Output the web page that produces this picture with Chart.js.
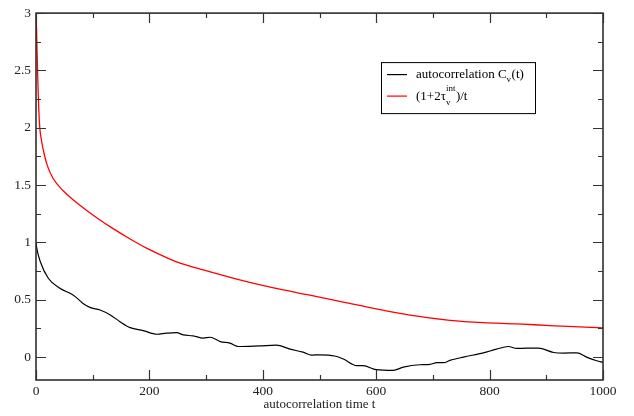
<!DOCTYPE html>
<html>
<head>
<meta charset="utf-8">
<script src="https://cdn.jsdelivr.net/npm/chart.js@4"></script>
<style>
  body { margin: 0; background: #fff; }
  canvas { display: block; }
</style>
</head>
<body>
<canvas id="acf" width="634" height="416"></canvas>
<script>
'use strict';

// (1+2 tau_int)/t
var tRed = [0, 1, 3, 6, 10, 15, 20, 30, 48, 66, 89, 107, 136, 166, 195, 236, 254, 295, 354, 413, 483, 542, 600, 660, 730, 789, 848, 906, 1000];
var redVals = [3.02, 2.85, 2.45, 2.05, 1.88, 1.76, 1.67, 1.56, 1.45, 1.37, 1.28, 1.215, 1.12, 1.03, 0.95, 0.855, 0.82, 0.76, 0.68, 0.61, 0.54, 0.48, 0.42, 0.365, 0.32, 0.30, 0.29, 0.275, 0.255];

// autocorrelation C_v(t)
var tBlack = [0, 1, 7, 22, 42, 66, 83, 95, 113, 131, 148, 166, 189, 213, 230, 248, 260, 277, 295, 307, 325, 342, 357, 395, 424, 448, 471, 486, 501, 527, 542, 566, 577, 600, 630, 648, 677, 695, 707, 719, 730, 754, 789, 812, 833, 848, 866, 886, 913, 931, 954, 971, 989, 1000];
var blackVals = [1.0, 0.96, 0.84, 0.685, 0.60, 0.54, 0.468, 0.433, 0.41, 0.367, 0.309, 0.257, 0.231, 0.199, 0.208, 0.213, 0.193, 0.185, 0.165, 0.173, 0.135, 0.121, 0.092, 0.098, 0.104, 0.069, 0.043, 0.017, 0.02, 0.009, -0.017, -0.075, -0.075, -0.11, -0.116, -0.087, -0.067, -0.064, -0.049, -0.049, -0.029, 0.0, 0.037, 0.069, 0.092, 0.075, 0.078, 0.078, 0.04, 0.035, 0.037, 0.0, -0.032, -0.047];

var xMajor = [0, 200, 400, 600, 800, 1000];
var xMinor = [100, 300, 500, 700, 900];
var yMajor = [0, 0.5, 1, 1.5, 2, 2.5, 3];
var yMinor = [-0.25, 0.25, 0.75, 1.25, 1.75, 2.25, 2.75];

var FONT = '"Liberation Serif", "DejaVu Serif", serif';

function toPoints(xs, ys) {
  return xs.map(function (x, i) { return { x: x, y: ys[i] }; });
}

// frame with inward ticks on all four sides, plus the legend box
var framePlugin = {
  id: 'frame',
  afterDraw: function (chart) {
    var ctx = chart.ctx;
    var a = chart.chartArea;
    var xs = chart.scales.x, ys = chart.scales.y;
    ctx.save();
    ctx.strokeStyle = '#222';
    ctx.lineWidth = 1.5;
    ctx.strokeRect(a.left, a.top, a.right - a.left, a.bottom - a.top);

    ctx.lineWidth = 1.2;
    ctx.strokeStyle = '#333';
    function xt(v, len) {
      var p = Math.round(xs.getPixelForValue(v)) + 0.5;
      ctx.beginPath();
      ctx.moveTo(p, a.bottom); ctx.lineTo(p, a.bottom - len);
      ctx.moveTo(p, a.top); ctx.lineTo(p, a.top + len);
      ctx.stroke();
    }
    function yt(v, len) {
      if (v < ys.min || v > ys.max) return;
      var p = Math.round(ys.getPixelForValue(v)) + 0.5;
      ctx.beginPath();
      ctx.moveTo(a.left, p); ctx.lineTo(a.left + len, p);
      ctx.moveTo(a.right, p); ctx.lineTo(a.right - len, p);
      ctx.stroke();
    }
    xMajor.forEach(function (v) { xt(v, 10); });
    xMinor.forEach(function (v) { xt(v, 5); });
    yMajor.forEach(function (v) { yt(v, 10); });
    yMinor.forEach(function (v) { yt(v, 5); });

    // legend
    var lx = a.left + 345, ly = a.top + 49;
    ctx.lineWidth = 1;
    ctx.strokeStyle = '#000';
    ctx.strokeRect(lx + 0.5, ly + 0.5, 154, 51);
    ctx.lineWidth = 1.2;
    ctx.beginPath();
    ctx.moveTo(lx + 6, ly + 12.5); ctx.lineTo(lx + 26, ly + 12.5);
    ctx.stroke();
    ctx.strokeStyle = '#ff0000';
    ctx.beginPath();
    ctx.moveTo(lx + 6, ly + 34); ctx.lineTo(lx + 26, ly + 34);
    ctx.stroke();

    ctx.fillStyle = '#000';
    ctx.textBaseline = 'alphabetic';
    ctx.textAlign = 'left';
    var big = '13px ' + FONT, small = '9px ' + FONT;
    var tx = lx + 35, b1 = ly + 16, b2 = ly + 38;
    ctx.font = big;
    var s = 'autocorrelation C';
    ctx.fillText(s, tx, b1);
    var w = ctx.measureText(s).width;
    ctx.font = small;
    ctx.fillText('v', tx + w, b1 + 4);
    var wv = ctx.measureText('v').width;
    ctx.font = big;
    ctx.fillText('(t)', tx + w + wv + 0.5, b1);

    s = '(1+2\u03c4';
    ctx.fillText(s, tx, b2);
    w = ctx.measureText(s).width;
    ctx.font = small;
    ctx.fillText('int', tx + w, b2 - 9);
    ctx.fillText('v', tx + w, b2 + 5);
    var wi = ctx.measureText('int').width;
    ctx.font = big;
    ctx.fillText(')/t', tx + w + wi + 0.5, b2);
    ctx.restore();
  }
};

var tickFont = { family: FONT, size: 13.5 };
function plainLabel(v) { return String(v); }

new Chart(document.getElementById('acf').getContext('2d'), {
  type: 'line',
  data: {
    datasets: [{
      label: 'autocorrelation C_v(t)',
      data: toPoints(tBlack, blackVals),
      borderColor: '#000',
      borderWidth: 1.2,
      cubicInterpolationMode: 'monotone',
      pointRadius: 0,
      fill: false
    }, {
      label: '(1+2tau_v^int)/t',
      data: toPoints(tRed, redVals),
      borderColor: '#ff0000',
      borderWidth: 1.3,
      cubicInterpolationMode: 'monotone',
      pointRadius: 0,
      fill: false
    }]
  },
  options: {
    responsive: false,
    animation: false,
    devicePixelRatio: 1,
    layout: { padding: { left: 0, top: 11, right: 31, bottom: 0 } },
    plugins: {
      legend: { display: false },
      tooltip: { enabled: false }
    },
    scales: {
      x: {
        type: 'linear',
        min: 0,
        max: 1000,
        grid: { display: false, drawTicks: false },
        border: { display: false },
        afterBuildTicks: function (s) { s.ticks = xMajor.map(function (v) { return { value: v }; }); },
        afterFit: function (s) { s.height = 36; },
        ticks: { font: tickFont, color: '#222', padding: 3, maxRotation: 0, callback: plainLabel },
        title: {
          display: true,
          text: 'autocorrelation time t',
          font: { family: FONT, size: 13 },
          color: '#222',
          padding: { top: 0, bottom: 4 }
        }
      },
      y: {
        min: -0.2,
        max: 3,
        grid: { display: false, drawTicks: false },
        border: { display: false },
        afterBuildTicks: function (s) { s.ticks = yMajor.map(function (v) { return { value: v }; }); },
        afterFit: function (s) { s.width = 36; },
        ticks: { font: tickFont, color: '#222', padding: 5, callback: plainLabel }
      }
    }
  },
  plugins: [framePlugin]
});
</script>
</body>
</html>
